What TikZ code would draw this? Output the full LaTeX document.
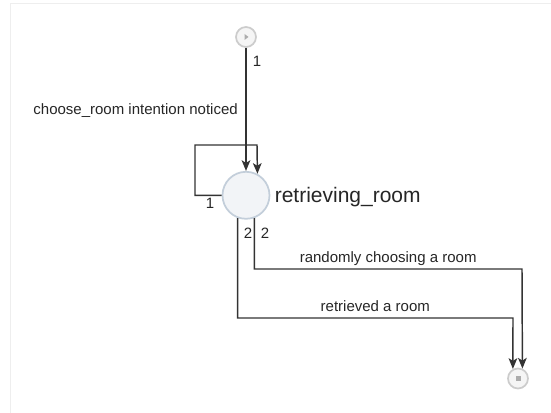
\documentclass[tikz,border=0pt]{standalone}
\usepackage{fontspec}
\setmainfont{Liberation Sans}
\usetikzlibrary{arrows.meta,calc}
\definecolor{txt}{HTML}{262626}
\definecolor{edgec}{HTML}{333333}
\definecolor{stfill}{HTML}{F2F4F7}
\definecolor{stdraw}{HTML}{C3CEDA}
\definecolor{framec}{HTML}{EEEEEE}
\begin{document}
\begin{tikzpicture}[x=0.75pt,y=-0.75pt,
  lbl/.style={inner sep=0pt,text=txt,font=\fontsize{11.25pt}{13pt}\selectfont},
  edge/.style={draw=edgec,line width=1.1pt,-{Stealth[length=8pt,width=6.5pt,inset=2pt]}},
  statec/.style={circle,fill=stfill,draw=stdraw,line width=1.3pt,minimum size=35.25pt,inner sep=0pt},
  icon/.style={circle,fill=gray!8,draw=gray!40,line width=1.3pt,minimum size=15pt,inner sep=0pt}]
\useasboundingbox (0,0) rectangle (551,413);
\draw[framec,line width=0.6pt] (10,413) -- (10,3) -- (551,3);
% nodes
\node[icon] (start) at (246,37) {};
\fill[gray!65] ($(start)+(-1.5,-3)$) -- ($(start)+(2.5,0)$) -- ($(start)+(-1.5,3)$) -- cycle;
\node[statec] (state) at (246,195.3) {};
\node[lbl,anchor=base west,font=\fontsize{15.75pt}{18pt}\selectfont] (statelbl) at (274.5,202.5) {retrieving\_room};
\node[icon] (end) at (518,378.5) {};
\fill[gray!65] ($(end)+(-2.5,-2.5)$) rectangle ($(end)+(2.5,2.5)$);
% coordinates
\coordinate (loopA) at (195,145);
\coordinate (loopB) at (257,145);
\coordinate (r1) at (513,318);
\coordinate (r2) at (522,269);
% edges
\draw[edge] (start) -- (state.north);
\node[lbl,anchor=base east] (lblchoose) at (238,114.5) {choose\_room intention noticed};
\node[lbl,anchor=base west] (n1a) at (252.5,66.5) {1};
\draw[edge] (state.west) -- (loopA |- state.west) -- (loopA) -- (loopB) -- (state.62);
\node[lbl,anchor=base west] (n1b) at (205.5,208.5) {1};
\draw[edge] (state.250) -- (state.250 |- r1) -- node[lbl,anchor=base,yshift=5pt] {retrieved a room} (r1) -- (end.118);
\draw[edge] (state.290) -- (state.290 |- r2) -- node[lbl,anchor=base,yshift=5pt] {randomly choosing a room} (r2) -- (end.66);
\node[lbl,anchor=base west] (n2a) at (243.5,238.5) {2};
\node[lbl,anchor=base west] (n2b) at (260.5,238.5) {2};
\end{tikzpicture}
\end{document}
